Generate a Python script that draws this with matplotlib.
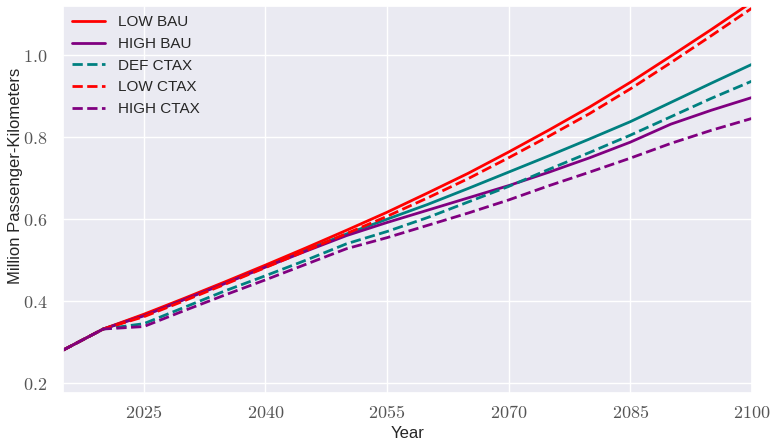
import numpy as np
import matplotlib
matplotlib.use("Agg")
import matplotlib.pyplot as plt
from matplotlib.ticker import FuncFormatter
import seaborn as sns

sns.set_theme(style="darkgrid")
plt.rcParams['font.family'] = ['Liberation Sans', 'DejaVu Sans']
plt.rcParams['mathtext.fontset'] = 'cm'

years = [2015, 2020, 2025, 2030, 2035, 2040, 2045, 2050, 2055,
         2060, 2065, 2070, 2075, 2080, 2085, 2090, 2095, 2100]

low_bau = [0.280, 0.332, 0.368, 0.407, 0.447, 0.488, 0.530, 0.573, 0.617,
           0.664, 0.712, 0.764, 0.818, 0.874, 0.934, 0.998, 1.063, 1.130]
def_bau = [0.280, 0.332, 0.366, 0.405, 0.445, 0.485, 0.525, 0.564, 0.600,
           0.636, 0.675, 0.715, 0.755, 0.796, 0.838, 0.885, 0.932, 0.978]
high_bau = [0.280, 0.332, 0.364, 0.404, 0.443, 0.483, 0.522, 0.560, 0.592,
            0.622, 0.652, 0.682, 0.715, 0.750, 0.788, 0.832, 0.866, 0.897]
def_ctax = [0.280, 0.332, 0.345, 0.385, 0.425, 0.462, 0.500, 0.540, 0.570,
            0.604, 0.642, 0.680, 0.722, 0.763, 0.805, 0.850, 0.895, 0.937]
low_ctax = [0.280, 0.332, 0.362, 0.401, 0.441, 0.482, 0.523, 0.565, 0.607,
            0.652, 0.699, 0.750, 0.803, 0.858, 0.918, 0.982, 1.048, 1.115]
high_ctax = [0.280, 0.332, 0.338, 0.377, 0.415, 0.452, 0.490, 0.528, 0.555,
             0.585, 0.615, 0.647, 0.682, 0.715, 0.749, 0.785, 0.817, 0.846]

red = '#ff0000'
purple = '#800080'
teal = '#008080'

fig = plt.figure(figsize=(7.84, 4.41), dpi=100)
ax = fig.add_axes([0.080, 0.109, 0.879, 0.877])

lw = 2.0
ax.plot(years, def_bau, color=teal, lw=lw)
ax.plot(years, low_bau, color=red, lw=lw, label='LOW BAU')
ax.plot(years, high_bau, color=purple, lw=lw, label='HIGH BAU')
ax.plot(years, def_ctax, color=teal, lw=lw, ls='--', label='DEF CTAX')
ax.plot(years, low_ctax, color=red, lw=lw, ls='--', label='LOW CTAX')
ax.plot(years, high_ctax, color=purple, lw=lw, ls='--', label='HIGH CTAX')

ax.set_xlim(2015, 2100)
ax.set_ylim(0.176, 1.12)
ax.set_xticks([2025, 2040, 2055, 2070, 2085, 2100])
ax.set_yticks([0.2, 0.4, 0.6, 0.8, 1.0])
ax.xaxis.set_major_formatter(FuncFormatter(lambda v, p: r'$%d$' % v))
ax.yaxis.set_major_formatter(FuncFormatter(lambda v, p: r'$%.1f$' % v))
ax.tick_params(labelsize=13, colors='#555555', pad=5)
ax.tick_params(axis='x', pad=3)
ax.set_xlabel('Year', fontsize=12)
ax.set_ylabel('Million Passenger-Kilometers', fontsize=12)
ax.xaxis.set_label_coords(0.5, -0.085)
ax.yaxis.set_label_coords(-0.057, 0.56)

ax.legend(loc='upper left', frameon=False, fontsize=11, borderaxespad=0.2,
          handlelength=2.2, labelspacing=0.5)

fig.savefig('out.png', dpi=100)
